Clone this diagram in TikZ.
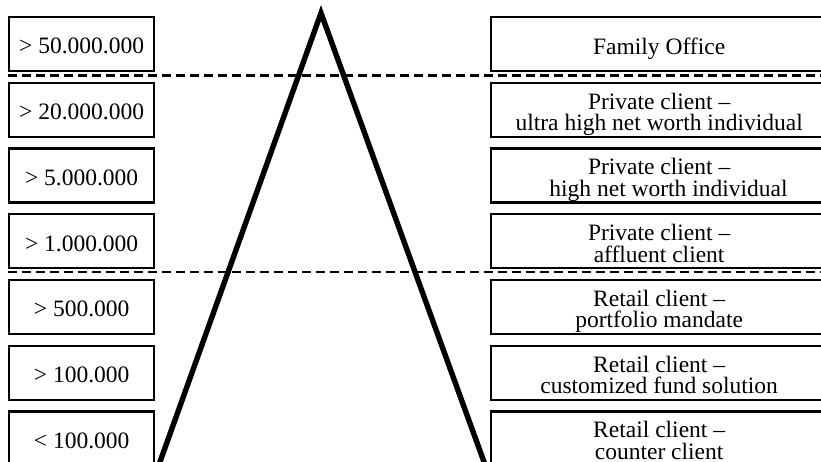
\documentclass[tikz,border=0pt]{standalone}
\usepackage{fontspec}
\setmainfont{Liberation Serif}
\begin{document}
\begin{tikzpicture}[x=1pt,y=-1pt,
  box/.style={draw, line width=2.3pt, inner sep=0pt, minimum height=54pt, anchor=north west},
  amount/.style={box, minimum width=145pt},
  segment/.style={box, minimum width=336pt},
  caption/.style={inner sep=0pt, align=center, text depth=5pt,
    font=\fontsize{23.5}{21.5}\selectfont},
  divider/.style={line width=2.3pt, dash pattern=on 9pt off 5pt},
  pyramid/.style={line width=5.4pt, line join=miter, miter limit=20}]
\clip (0,0) rectangle (821,461);

% wealth thresholds (left column)
\node[amount] (L1) at (8,16)    {};
\node[amount] (L2) at (8,81.7)  {};
\node[amount] (L3) at (8,147.4) {};
\node[amount] (L4) at (8,213.1) {};
\node[amount] (L5) at (8,278.8) {};
\node[amount] (L6) at (8,344.5) {};
\node[amount] (L7) at (8,410.2) {};

\node[caption] (L1t) at ([yshift=-4.5pt]L1.center) {> 50.000.000};
\node[caption] (L2t) at ([yshift=-4.5pt]L2.center) {> 20.000.000};
\node[caption] (L3t) at ([yshift=-4.5pt]L3.center) {> 5.000.000};
\node[caption] (L4t) at ([yshift=-4.5pt]L4.center) {> 1.000.000};
\node[caption] (L5t) at ([yshift=-4.5pt]L5.center) {> 500.000};
\node[caption] (L6t) at ([yshift=-4.5pt]L6.center) {> 100.000};
\node[caption] (L7t) at ([yshift=-4.5pt]L7.center) {< 100.000};

% client segments (right column)
\node[segment] (R1) at (490,16)    {};
\node[segment] (R2) at (490,81.7)  {};
\node[segment] (R3) at (490,147.4) {};
\node[segment] (R4) at (490,213.1) {};
\node[segment] (R5) at (490,278.8) {};
\node[segment] (R6) at (490,344.5) {};
\node[segment] (R7) at (490,410.2) {};

\node[caption] (R1t) at ([yshift=-4.5pt]R1.center) {Family Office};
\node[caption] (R2t) at ([yshift=-4.5pt]R2.center) {Private client –\\ultra high net worth individual};
\node[caption] (R3t) at ([yshift=-4.5pt]R3.center) {Private client –\\\hspace*{0.8em}high net worth individual};
\node[caption] (R4t) at ([yshift=-4.5pt]R4.center) {Private client –\\affluent client};
\node[caption] (R5t) at ([yshift=-4.5pt]R5.center) {Retail client –\\portfolio mandate};
\node[caption] (R6t) at ([yshift=-4.5pt]R6.center) {Retail client –\\customized fund solution};
\node[caption] (R7t) at ([yshift=-4.5pt]R7.center) {Retail client –\\counter client};

% tier boundaries
\coordinate (d1a) at (8,75.5);   \coordinate (d1b) at (830,75.5);
\coordinate (d2a) at (8,272);    \coordinate (d2b) at (830,272);
\draw[divider] (d1a) -- (d1b);
\draw[divider] (d2a) -- (d2b);

% the wealth pyramid
\coordinate (apex) at (321,13);
\coordinate (baseL) at (158.5,466);
\coordinate (baseR) at (485.5,466);
\draw[pyramid] (baseL) -- (apex) -- (baseR);
\end{tikzpicture}
\end{document}
